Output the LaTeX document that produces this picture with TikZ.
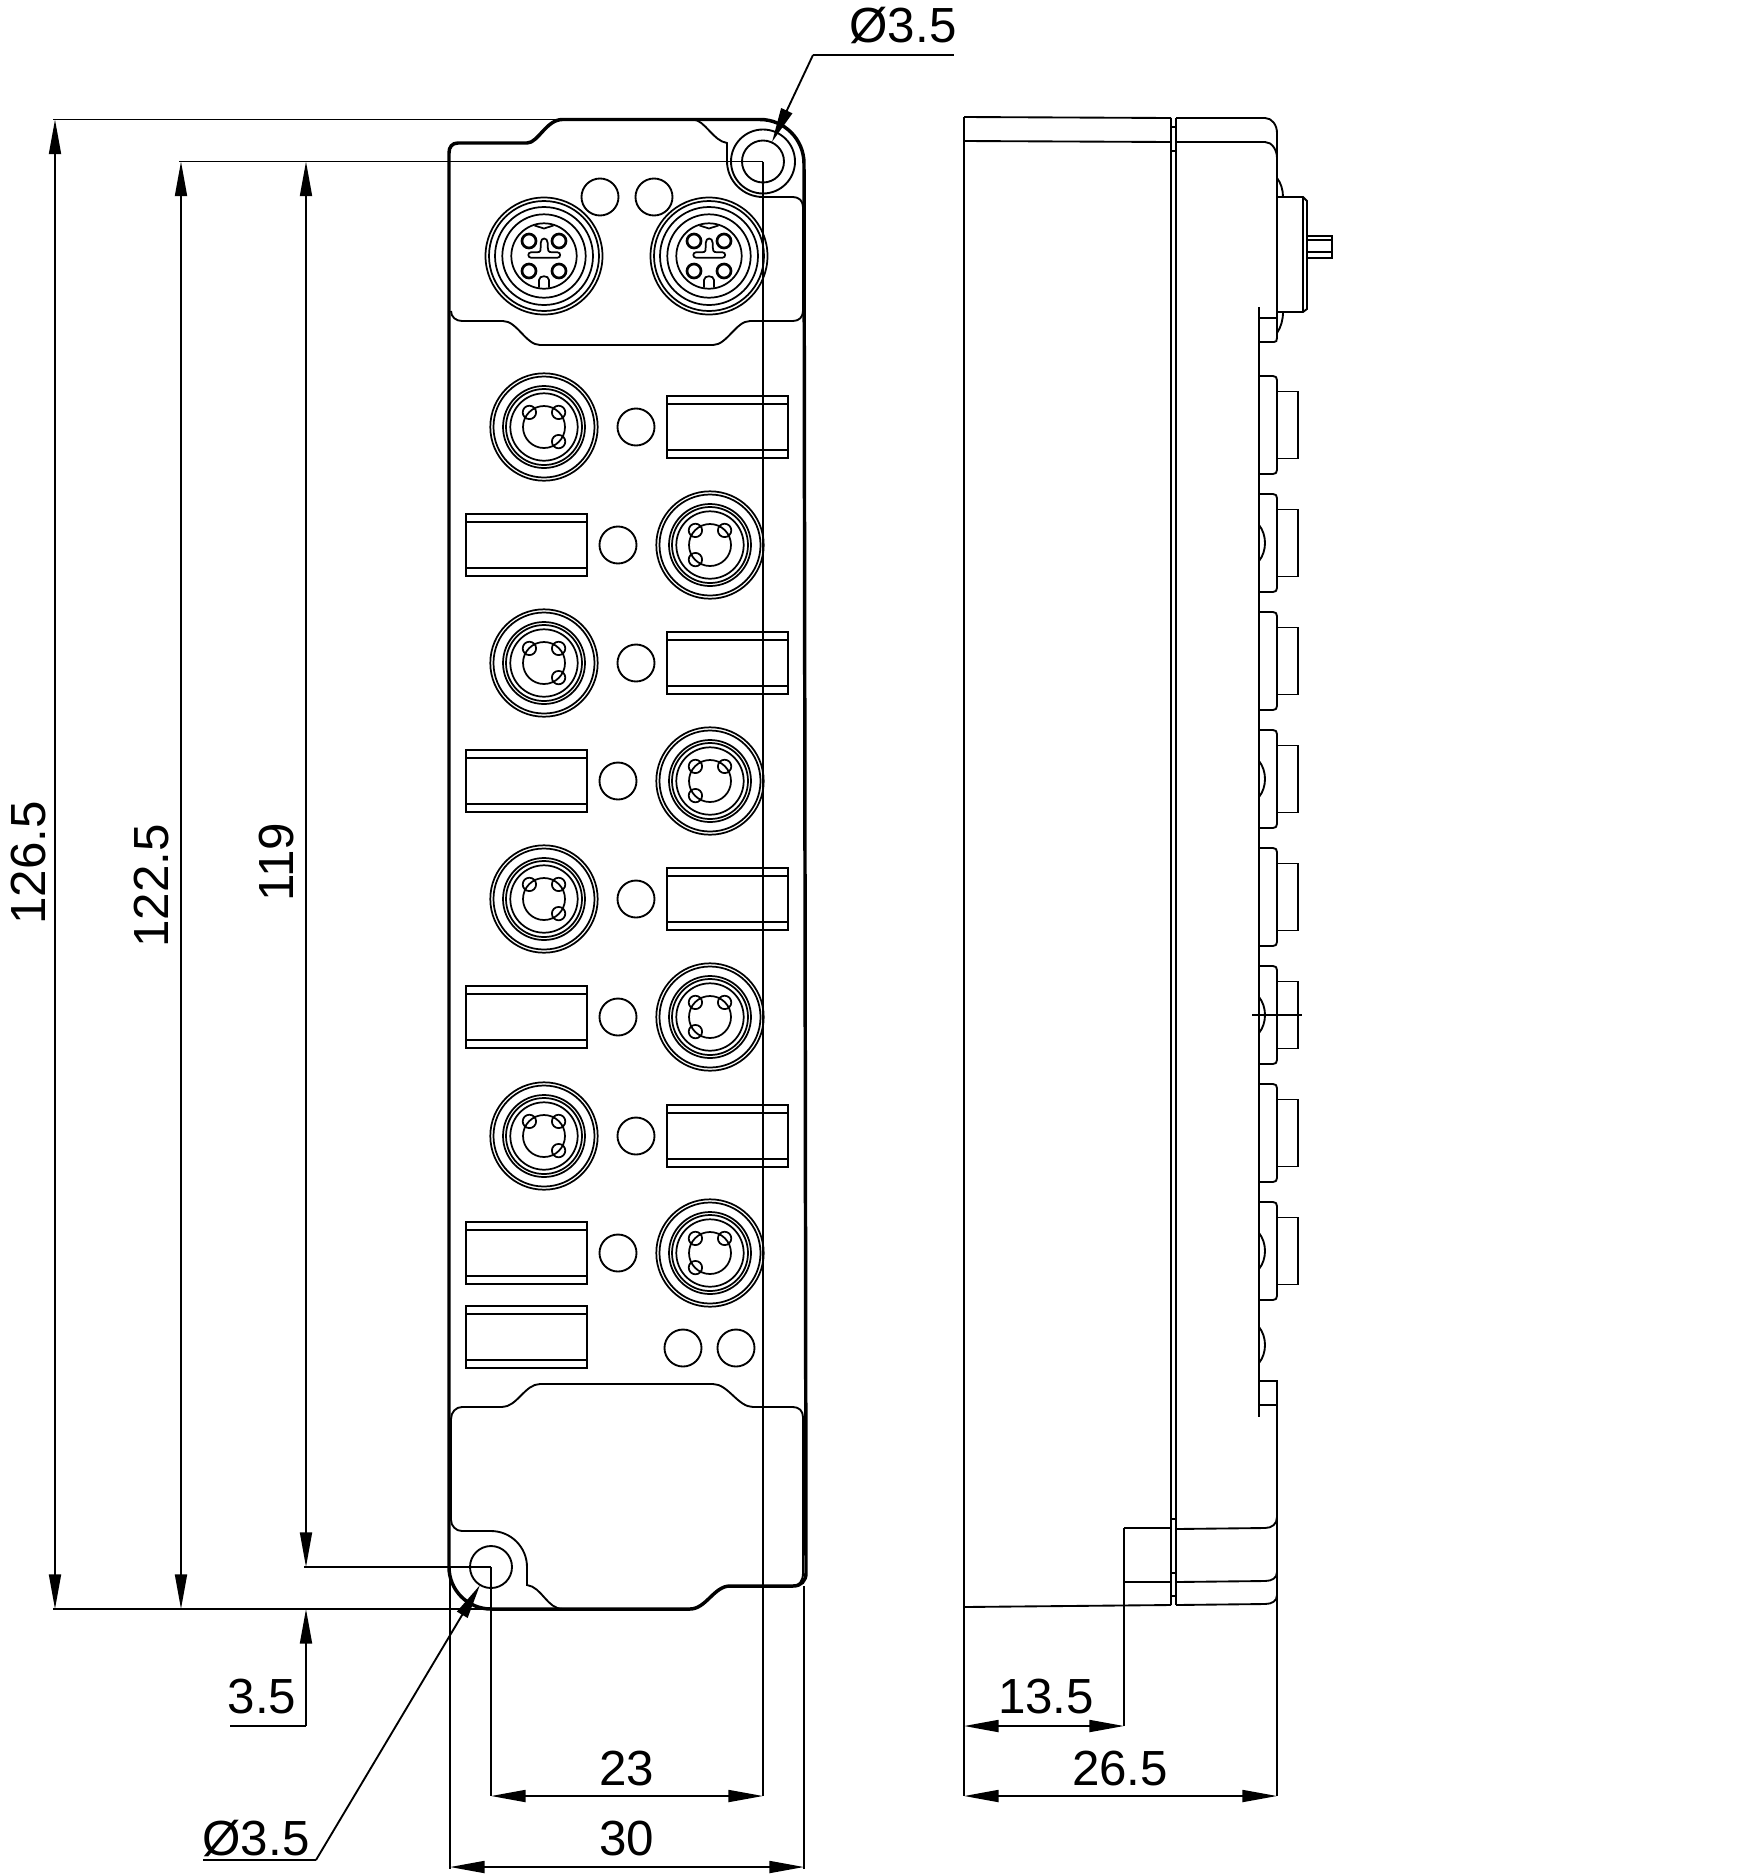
\documentclass[tikz,border=0pt]{standalone}
\usepackage{fontspec}
\setmainfont{Liberation Sans}
\usetikzlibrary{arrows.meta}

\tikzset{every picture/.style={line width=0.75pt}}
\tikzset{
	thinline/.style={line width=1.4pt},
	ringline/.style={line width=1.3pt},
	thickline/.style={line width=2.6pt},
	rearline/.style={line width=1.9pt},
	dimline/.style={line width=1.4pt},
	dimlabel/.style={font=\fontsize{37}{40}\selectfont,inner sep=0pt},
	>={Triangle[length=26pt,width=9pt]},
	led/.pic={
		\draw [thinline] (0,0) circle (18.5);
	},
	strip/.pic={
		\draw [thinline] (-60.5,-31) rectangle (60.5,31);
		\draw [thinline] (-60.5,-23) -- (60.5,-23);
		\draw [thinline] (-60.5,23) -- (60.5,23);
	},
	% pics lose the picture's flip, so y points up in here
	portfour/.pic={
		\draw [ringline] (0,0) circle (58.5);
		\draw [ringline] (0,0) circle (55);
		\draw [ringline] (0,0) circle (49);
		\draw [ringline] (0,0) circle (41.7);
		\draw [ringline] (0,0) circle (32.7);
		\draw [line width=2pt] (-15,15) circle (7);
		\draw [line width=2pt] (15,15) circle (7);
		\draw [line width=2pt] (-15,-15) circle (7);
		\draw [line width=2pt] (15,-15) circle (7);
		\draw [ringline] (-9.5,30.5) -- (0,27.5) -- (9.5,30.5);
		\draw [ringline] (-5,-31.5) -- (-5,-24) .. controls (-5,-19) and (5,-19) .. (5,-24) -- (5,-31.5);
		\draw [ringline] (-13,3.7) -- (-7,3.7) .. controls (-3,3.7) and (-3.3,6) .. (-3.3,9) -- (-3.3,13) .. controls (-3.3,19) and (3.7,19) .. (3.7,13) -- (3.7,9) .. controls (3.7,6) and (4,3.7) .. (8,3.7) -- (13.5,3.7) .. controls (17,3.7) and (17,-1.7) .. (13.5,-1.7) -- (-13,-1.7) .. controls (-16.5,-1.7) and (-16.5,3.7) .. (-13,3.7) -- cycle;
	},
	portthree/.pic={
		\draw [ringline] (0,0) circle (53.7);
		\draw [ringline] (0,0) circle (50.5);
		\draw [ringline] (0,0) circle (41);
		\draw [ringline] (0,0) circle (38);
		\draw [ringline] (0,0) circle (33.7);
		\draw [ringline] (0,0) circle (21);
		\draw [ringline] (-14.6,14.6) circle (6.7);
		\draw [ringline] (14.6,14.6) circle (6.7);
		\draw [ringline] (14.6,-14.6) circle (6.7);
	},
	sideport/.pic={
		\draw [thinline] (0,-49) -- (14,-49) .. controls (16.5,-49) and (18,-47.5) .. (18,-45) -- (18,45) .. controls (18,47.5) and (16.5,49) .. (14,49) -- (0,49);
		\draw [thinline] (18,-33.5) -- (39,-33.5) -- (39,33.5) -- (18,33.5);
	},
	sidearc/.pic={
		\draw [thinline] (0,-18) .. controls (8,-8) and (8,8) .. (0,18);
	}
}

\begin{document}
\begin{tikzpicture}[x=0.75pt,y=0.75pt,yscale=-1,xscale=1]
	\useasboundingbox (0,0) rectangle (1744,1875);

	%Shape: Housing outline
	\draw [thickline] (449,153) .. controls (449,147) and (452,143) .. (458,143) -- (527,143) .. controls (538,143) and (546,120) .. (562,119.5) -- (760,119.5) arc[start angle=-90,end angle=0,radius=44] -- (806,1573) .. controls (806,1581) and (801,1586) .. (793,1586) -- (730,1586) .. controls (714,1586) and (706,1609) .. (690,1609) -- (491,1609) arc[start angle=90,end angle=180,radius=42] -- cycle;
	%Shape: Upper cover
	\draw [thinline] (562,119.5) -- (693,119.5) .. controls (705,120) and (713,141) .. (727,143) -- (727,161) arc[start angle=180,end angle=90,radius=36] -- (793,197) .. controls (799,197) and (803,201) .. (803,207) -- (803,311) .. controls (803,317) and (799,321) .. (793,321) -- (750,321) .. controls (736,321) and (727,345) .. (713,345) -- (540,345) .. controls (526,345) and (517,321) .. (503,321) -- (462,321) .. controls (456,321) and (451,317) .. (451,311);
	%Shape: Lower cover
	\draw [thinline] (451,1419) .. controls (451,1412) and (456,1407) .. (462,1407) -- (502,1407) .. controls (517,1407) and (525,1384) .. (540,1384) -- (713,1384) .. controls (728,1384) and (738,1407) .. (753,1407) -- (793,1407) .. controls (799,1407) and (803,1411) .. (803,1417) -- (803,1573) .. controls (803,1581) and (799,1586) .. (793,1586);
	\draw [thinline] (563,1609) .. controls (547,1609) and (542,1587) .. (527,1585) -- (527,1567) arc[start angle=0,end angle=-90,radius=36] -- (462,1531) .. controls (456,1531) and (451,1526) .. (451,1520) -- (451,1419);

	%Shape: Mounting holes
	\draw [thinline] (763,161.5) circle (21);
	\draw [thinline] (763,161.5) circle (32);
	\draw [thinline] (491,1567) circle (21);

	%Shape: Upper ports
	\pic at (544,256) {portfour};
	\pic at (709,256) {portfour};
	\pic at (600,197) {led};
	\pic at (654,197) {led};

	%Shape: Left column
	\pic at (544,427) {portthree};
	\pic at (544,663) {portthree};
	\pic at (544,899) {portthree};
	\pic at (544,1136) {portthree};
	\pic at (636,427) {led};
	\pic at (636,663) {led};
	\pic at (636,899) {led};
	\pic at (636,1136) {led};
	\pic at (727.5,427) {strip};
	\pic at (727.5,663) {strip};
	\pic at (727.5,899) {strip};
	\pic at (727.5,1136) {strip};

	%Shape: Right column
	\pic [xscale=-1] at (710,545) {portthree};
	\pic [xscale=-1] at (710,781) {portthree};
	\pic [xscale=-1] at (710,1017) {portthree};
	\pic [xscale=-1] at (710,1253) {portthree};
	\pic at (618,545) {led};
	\pic at (618,781) {led};
	\pic at (618,1017) {led};
	\pic at (618,1253) {led};
	\pic at (526.5,545) {strip};
	\pic at (526.5,781) {strip};
	\pic at (526.5,1017) {strip};
	\pic at (526.5,1253) {strip};
	\pic at (526.5,1337) {strip};
	\pic at (683,1348) {led};
	\pic at (736,1348) {led};

	%Shape: Side view housing
	\draw [thinline] (964,117) -- (1171,118);
	\draw [thinline] (964,141) -- (1171,142);
	\draw [thinline] (964,117) -- (964,1607);
	\draw [thinline] (964,1607) -- (1171,1605);
	\draw [thinline] (1124,1528) -- (1171,1528);
	\draw [thinline] (1124,1582) -- (1171,1582);
	\draw [thinline] (1171,118) -- (1171,1605);
	\draw [thinline] (1176,118) -- (1176,1605);
	\draw [thinline] (1171,127) -- (1176,127);
	\draw [thinline] (1171,151) -- (1176,151);
	\draw [thinline] (1171,1519) -- (1176,1519);
	\draw [thinline] (1171,1573) -- (1176,1573);
	\draw [thinline] (1171,1596) -- (1176,1596);
	\draw [thinline] (1176,118) -- (1265,118) .. controls (1272,118) and (1277,125) .. (1277,133) -- (1277,318);
	\draw [thinline] (1176,142) -- (1265,142) .. controls (1272,142) and (1277,150) .. (1277,158);
	\draw [thinline] (1176,1529) -- (1265,1528) .. controls (1272,1528) and (1277,1524) .. (1277,1517);
	\draw [thinline] (1176,1582) -- (1265,1581) .. controls (1272,1581) and (1277,1578) .. (1277,1572);
	\draw [thinline] (1176,1605) -- (1265,1604) .. controls (1272,1604) and (1277,1601) .. (1277,1595);
	\draw [thinline] (1277,1405) -- (1277,1796);

	%Shape: Side view upper port
	\draw [thinline] (1277,197) -- (1303,197) -- (1307,201) -- (1307,309) -- (1303,312) -- (1277,312);
	\draw [thinline] (1303,197) -- (1303,312);
	\draw [thinline] (1307,236) -- (1332,236) -- (1332,258) -- (1307,258);
	\draw [thinline] (1307,240) -- (1332,240);
	\draw [thinline] (1307,252) -- (1332,252);
	\draw [thinline] (1277,178) .. controls (1281,183) and (1283,190) .. (1283,197);
	\draw [thinline] (1283,312) .. controls (1283,320) and (1281,327) .. (1277,333);
	\draw [rearline] (1259,307) -- (1259,1417);
	\draw [thinline] (1259,318) -- (1277,318) -- (1277,338) .. controls (1277,341) and (1276,342) .. (1274,342) -- (1259,342);
	\draw [thinline] (1259,1381) -- (1277,1381) -- (1277,1405) -- (1259,1405);

	%Shape: Side view ports
	\pic at (1259,425) {sideport};
	\pic at (1259,543) {sideport};
	\pic at (1259,661) {sideport};
	\pic at (1259,779) {sideport};
	\pic at (1259,897) {sideport};
	\pic at (1259,1015) {sideport};
	\pic at (1259,1133) {sideport};
	\pic at (1259,1251) {sideport};
	\pic at (1259,543) {sidearc};
	\pic at (1259,779) {sidearc};
	\pic at (1259,1015) {sidearc};
	\pic at (1259,1251) {sidearc};
	\pic at (1259,1345) {sidearc};
	\draw [thinline] (1252,1015) -- (1302,1015);

	% Dimension ends
	\coordinate (holeA) at (763,161.5);
	\coordinate (holeB) at (491,1567);
	\coordinate (dimAtop) at (55,119.5);
	\coordinate (dimAbot) at (55,1609);
	\coordinate (dimBtop) at (181,161.5);
	\coordinate (dimBbot) at (181,1609);
	\coordinate (dimCtop) at (306,161.5);
	\coordinate (dimCbot) at (306,1567);
	\coordinate (dimDtip) at (306,1609);
	\coordinate (dimDknee) at (306,1726);
	\coordinate (dimDend) at (230,1726);
	\coordinate (leadA) at (813,55);
	\coordinate (leadAend) at (954,55);
	\coordinate (leadAtip) at (772,142);
	\coordinate (leadB) at (316,1860);
	\coordinate (leadBend) at (203,1860);
	\coordinate (leadBtip) at (480,1585);

	% Extension lines
	\draw [dimline] (53,119.5) -- (562,119.5);
	\draw [dimline] (53,1609) -- (491,1609);
	\draw [dimline] (179,161.5) -- (holeA);
	\draw [dimline] (304,1567) -- (holeB);
	\draw [dimline] (holeA) -- (763,1796);
	\draw [dimline] (holeB) -- (491,1796);
	\draw [dimline] (450,1570) -- (450,1869);
	\draw [dimline] (804,1586) -- (804,1869);
	\draw [dimline] (964,1607) -- (964,1796);
	\draw [dimline] (1124,1528) -- (1124,1726);

	% Dimension lines
	\draw [dimline,<->] (dimAtop) -- (dimAbot);
	\draw [dimline,<->] (dimBtop) -- (dimBbot);
	\draw [dimline,<->] (dimCtop) -- (dimCbot);
	\draw [dimline,->] (dimDknee) -- (dimDtip);
	\draw [dimline] (dimDknee) -- (dimDend);
	\draw [dimline,<->] (491,1796) -- (763,1796);
	\draw [dimline,<->] (450,1867) -- (804,1867);
	\draw [dimline,<->] (964,1726) -- (1124,1726);
	\draw [dimline,<->] (964,1796) -- (1277,1796);
	\draw [dimline,->] (leadA) -- (leadAtip);
	\draw [dimline] (leadA) -- (leadAend);
	\draw [dimline,->] (leadB) -- (leadBtip);
	\draw [dimline] (leadB) -- (leadBend);

	% Text Node
	\node [dimlabel,rotate=90] (lblTotal) at (29,863) {126.5};
	% Text Node
	\node [dimlabel,rotate=90] (lblPitch) at (152,886) {122.5};
	% Text Node
	\node [dimlabel,rotate=90] (lblInner) at (277,862) {119};
	% Text Node
	\node [dimlabel] (lblOffset) at (262,1696) {3.5};
	% Text Node
	\node [dimlabel] (lblHoleA) at (903,25) {Ø3.5};
	% Text Node
	\node [dimlabel] (lblHoleB) at (256,1838) {Ø3.5};
	% Text Node
	\node [dimlabel] (lblSpan) at (627,1768) {23};
	% Text Node
	\node [dimlabel] (lblWidth) at (627,1838) {30};
	% Text Node
	\node [dimlabel] (lblStep) at (1046,1696) {13.5};
	% Text Node
	\node [dimlabel] (lblDepth) at (1120,1768) {26.5};

\end{tikzpicture}
\end{document}
